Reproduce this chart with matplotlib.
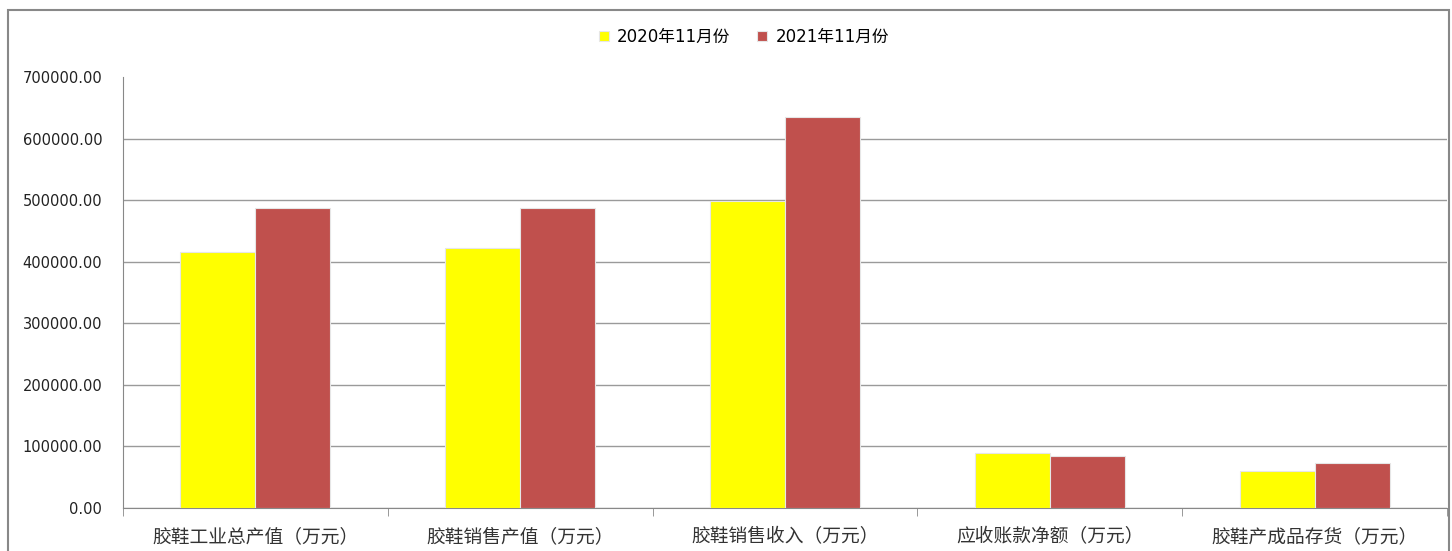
import matplotlib.pyplot as plt
import numpy as np
from matplotlib.patches import Rectangle
from matplotlib.ticker import FuncFormatter

plt.rcParams['font.family'] = ['DejaVu Sans', 'Noto Sans CJK SC']

# Categories and values (10k yuan)
categories = ["胶鞋工业总产值（万元）", "胶鞋销售产值（万元）", "胶鞋销售收入（万元）",
              "应收账款净额（万元）", "胶鞋产成品存货（万元）"]
series_names = ["2020年11月份", "2021年11月份"]
values_2020 = [416000, 422000, 499000, 90000, 60000]
values_2021 = [488000, 488000, 634500, 85000, 73500]
colors = ["#FFFF00", "#C0504D"]

W, H = 1452, 551
fig = plt.figure(figsize=(W / 100, H / 100), dpi=100)
ax = fig.add_axes([123 / W, 1 - 508 / H, (1447 - 123) / W, (508 - 77) / H])

x = np.arange(len(categories))
width = 0.283
for i, (vals, name) in enumerate(zip([values_2020, values_2021], series_names)):
    offset = (i - 0.5) * width
    ax.bar(x + offset, vals, width, color=colors[i], label=name,
           edgecolor="#e6e6e6", linewidth=0.8, zorder=3)

ax.set_xlim(-0.5, len(categories) - 0.5)
ax.set_ylim(0, 700000)
ax.set_yticks(np.arange(0, 700001, 100000))
ax.yaxis.set_major_formatter(FuncFormatter(lambda v, p: f"{v:.2f}"))
ax.grid(axis="y", color="#9a9a9a", linewidth=1, zorder=0)
ax.get_ygridlines()[-1].set_visible(False)
ax.tick_params(axis="y", length=0, pad=15, labelsize=10.5, labelcolor="#222222")

ax.set_xticks(x)
ax.set_xticklabels(categories, family=['Noto Sans CJK SC'], fontsize=13.5, color="#333333")
ax.tick_params(axis="x", length=0, pad=13)
# category separator ticks
ax.set_xticks(np.arange(-0.5, len(categories)), minor=True)
ax.tick_params(axis="x", which="minor", length=6, color="#888888", direction="out")

for side in ["top", "right"]:
    ax.spines[side].set_visible(False)
ax.spines["left"].set_color("#888888")
ax.spines["bottom"].set_color("#888888")

leg = fig.legend(loc="center", bbox_to_anchor=(744 / W, 1 - 37 / H), ncol=2,
                 frameon=False, handlelength=0.6, handleheight=0.6,
                 columnspacing=1.6, handletextpad=0.5,
                 prop={"family": ['DejaVu Sans', 'Noto Sans CJK SC'], "size": 12})

# outer border
fig.patches.append(Rectangle((8 / W, -0.01), (1449 - 8) / W, 1.01 - 10 / H,
                             transform=fig.transFigure, fill=False,
                             edgecolor="#888888", linewidth=1.5))

fig.savefig("out.png", dpi=100)
